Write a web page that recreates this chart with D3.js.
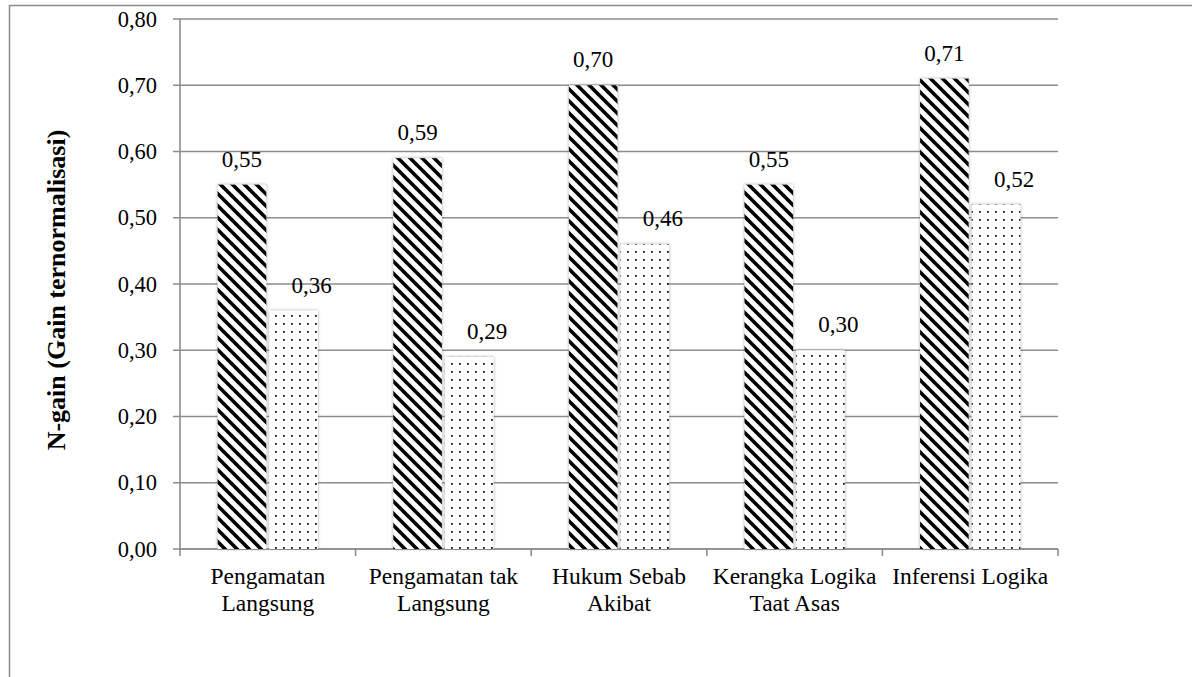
<!DOCTYPE html>
<html>
<head>
<meta charset="utf-8">
<script src="https://cdn.jsdelivr.net/npm/d3@7"></script>
<style>
  html, body { margin: 0; padding: 0; background: #fff; }
  svg { display: block; }
  text { font-family: "Liberation Serif", "Times New Roman", serif; fill: #000; }
</style>
</head>
<body>
<svg id="chart" width="1192" height="677"></svg>
<script>
// ---- data ----
const categories = [
  ["Pengamatan", "Langsung"],
  ["Pengamatan tak", "Langsung"],
  ["Hukum Sebab", "Akibat"],
  ["Kerangka Logika", "Taat Asas"],
  ["Inferensi Logika"]
];
const seriesHatched = [0.55, 0.59, 0.70, 0.55, 0.71];
const seriesDotted  = [0.36, 0.29, 0.46, 0.30, 0.52];
const yTicks = [0, 0.1, 0.2, 0.3, 0.4, 0.5, 0.6, 0.7, 0.8];
const yTitle = "N-gain (Gain ternormalisasi)";

// ---- layout ----
const svg = d3.select("#chart");
const W = 1192, H = 677;
const plot = { left: 180, right: 1058, top: 19, bottom: 549 };
const fmt = v => d3.format(".2f")(v).replace(".", ",");

const defs = svg.append("defs");
const hatch = defs.append("pattern")
  .attr("id", "hatch").attr("patternUnits", "userSpaceOnUse")
  .attr("width", 12).attr("height", 12);
hatch.append("rect").attr("width", 12).attr("height", 12).attr("fill", "#fff");
hatch.append("path")
  .attr("d", "M-3,-3 L15,15 M-3,9 L3,15 M9,-3 L15,3")
  .attr("stroke", "#000").attr("stroke-width", 3.6);

const dots = defs.append("pattern")
  .attr("id", "dots").attr("patternUnits", "userSpaceOnUse")
  .attr("width", 8).attr("height", 8);
dots.append("rect").attr("width", 8).attr("height", 8).attr("fill", "#fff");
dots.append("rect").attr("x", 3).attr("y", 3).attr("width", 1.8).attr("height", 1.8).attr("fill", "#111");

const shadow = defs.append("filter").attr("id", "shadow")
  .attr("x", "-20%").attr("y", "-5%").attr("width", "140%").attr("height", "110%");
shadow.append("feDropShadow").attr("dx", 0).attr("dy", 0)
  .attr("stdDeviation", 1.6).attr("flood-color", "#777").attr("flood-opacity", 0.7);

// outer frame
svg.append("path")
  .attr("d", `M9.5,${H} L9.5,5.5 L${W},5.5`)
  .attr("fill", "none").attr("stroke", "#8a8a8a").attr("stroke-width", 1.5);

const x0 = d3.scaleBand().domain(d3.range(categories.length))
  .range([plot.left, plot.right]).paddingInner(0).paddingOuter(0);
const y = d3.scaleLinear().domain([0, 0.8]).range([plot.bottom, plot.top]);

// gridlines
svg.append("g").selectAll("line").data(yTicks).join("line")
  .attr("x1", plot.left - 7).attr("x2", plot.right)
  .attr("y1", d => y(d)).attr("y2", d => y(d))
  .attr("stroke", "#8c8c8c").attr("stroke-width", 1.6);

// y axis line and labels
svg.append("line")
  .attr("x1", plot.left).attr("x2", plot.left)
  .attr("y1", plot.top).attr("y2", plot.bottom)
  .attr("stroke", "#8c8c8c").attr("stroke-width", 1.6);
svg.append("g").selectAll("text").data(yTicks).join("text")
  .attr("x", plot.left - 23).attr("y", d => y(d) + 7.5)
  .attr("text-anchor", "end").style("font-size", "22.5px")
  .text(d => fmt(d));

// x axis
svg.append("line")
  .attr("x1", plot.left).attr("x2", plot.right)
  .attr("y1", plot.bottom).attr("y2", plot.bottom)
  .attr("stroke", "#8c8c8c").attr("stroke-width", 1.6);
const bounds = d3.range(categories.length + 1).map(i => plot.left + i * x0.bandwidth());
svg.append("g").selectAll("line").data(bounds).join("line")
  .attr("x1", d => d).attr("x2", d => d)
  .attr("y1", plot.bottom).attr("y2", plot.bottom + 7)
  .attr("stroke", "#8c8c8c").attr("stroke-width", 1.6);

// category labels
const catG = svg.append("g").selectAll("text").data(categories).join("text")
  .attr("text-anchor", "middle").style("font-size", "23.5px")
  .attr("transform", (d, i) => `translate(${x0(i) + x0.bandwidth() / 2},0)`);
catG.selectAll("tspan").data(d => d).join("tspan")
  .attr("x", 0).attr("y", (d, j) => 584 + j * 26.5)
  .text(d => d);

// bars
const bw = x0.bandwidth() * 0.277, gap = 3;
const groups = [
  { values: seriesHatched, fill: "url(#hatch)", off: -gap / 2 - bw, labelShift: 0 },
  { values: seriesDotted,  fill: "url(#dots)",  off: gap / 2,       labelShift: 18 }
];
groups.forEach(g => {
  svg.append("g").selectAll("rect").data(g.values).join("rect")
    .attr("x", (d, i) => x0(i) + x0.bandwidth() / 2 + g.off)
    .attr("width", bw)
    .attr("y", d => y(d))
    .attr("height", d => y(0) - y(d))
    .attr("fill", g.fill)
    .attr("filter", "url(#shadow)");
  svg.append("g").selectAll("text").data(g.values).join("text")
    .attr("x", (d, i) => x0(i) + x0.bandwidth() / 2 + g.off + bw / 2 + g.labelShift)
    .attr("y", d => y(d) - 18)
    .attr("text-anchor", "middle").style("font-size", "23px")
    .text(d => fmt(d));
});

// y title
svg.append("text")
  .attr("transform", `translate(65,${(plot.top + plot.bottom) / 2 + 6}) rotate(-90)`)
  .attr("text-anchor", "middle")
  .style("font-size", "26px").style("font-weight", "bold")
  .text(yTitle);
</script>
</body>
</html>
